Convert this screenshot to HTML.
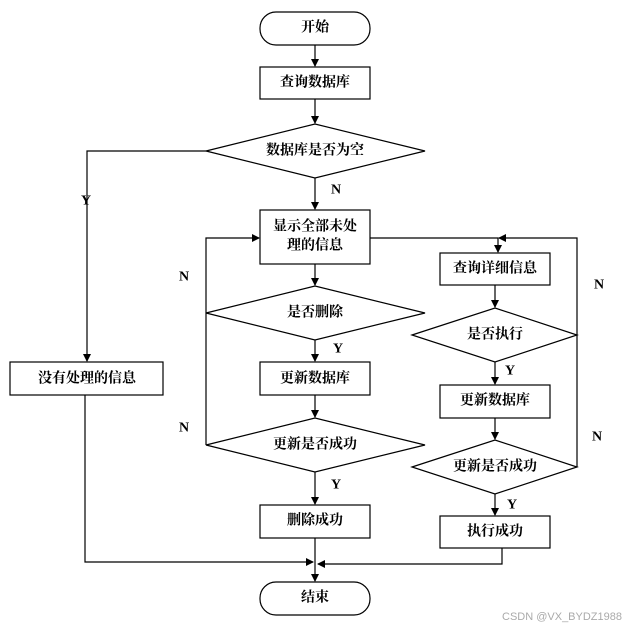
<!DOCTYPE html>
<html><head><meta charset="utf-8"><style>
html,body{margin:0;padding:0;background:#fff;}
svg text{font-family:"Liberation Serif","Noto Serif CJK SC",serif;font-weight:bold;font-size:14px;fill:#000;}
</style></head><body>
<svg width="625" height="627" viewBox="0 0 625 627" xmlns="http://www.w3.org/2000/svg">
<defs><marker id="a" markerWidth="8" markerHeight="8" refX="7" refY="4" orient="auto" markerUnits="userSpaceOnUse"><path d="M0,0 L8,4 L0,8 Z" fill="#000"/></marker></defs>
<g stroke="#000" stroke-width="1.2" fill="none">
<rect x="260" y="12" width="110" height="33" rx="16"/>
<rect x="260" y="67" width="110" height="32"/>
<polygon points="206,151 315,124 425,151 315,178"/>
<rect x="260" y="210" width="110" height="54"/>
<polygon points="206,313 315,286 425,313 315,340"/>
<rect x="260" y="362" width="110" height="33"/>
<polygon points="206,445 315,418 425,445 315,472"/>
<rect x="260" y="505" width="110" height="33"/>
<rect x="260" y="582" width="110" height="33" rx="16"/>
<rect x="10" y="362" width="153" height="33"/>
<rect x="440" y="253" width="110" height="32"/>
<polygon points="412,335 495,308 577,335 495,362"/>
<rect x="440" y="385" width="110" height="33"/>
<polygon points="412,467 495,440 577,467 495,494"/>
<rect x="440" y="516" width="110" height="32"/>
<line x1="315" y1="45" x2="315" y2="66" marker-end="url(#a)"/>
<line x1="315" y1="99" x2="315" y2="123" marker-end="url(#a)"/>
<line x1="315" y1="178" x2="315" y2="209" marker-end="url(#a)"/>
<polyline points="206,151 87,151 87,361" marker-end="url(#a)"/>
<line x1="315" y1="264" x2="315" y2="285" marker-end="url(#a)"/>
<line x1="315" y1="340" x2="315" y2="361" marker-end="url(#a)"/>
<line x1="315" y1="395" x2="315" y2="417" marker-end="url(#a)"/>
<line x1="315" y1="472" x2="315" y2="504" marker-end="url(#a)"/>
<line x1="315" y1="538" x2="315" y2="581" marker-end="url(#a)"/>
<polyline points="206,445 206,238 259,238" marker-end="url(#a)"/>
<polyline points="370,238 498,238 498,252" marker-end="url(#a)"/>
<polyline points="577,467 577,238 499,238" marker-end="url(#a)"/>
<line x1="495" y1="285" x2="495" y2="307" marker-end="url(#a)"/>
<line x1="495" y1="362" x2="495" y2="384" marker-end="url(#a)"/>
<line x1="495" y1="418" x2="495" y2="439" marker-end="url(#a)"/>
<line x1="495" y1="494" x2="495" y2="515" marker-end="url(#a)"/>
<polyline points="85,395 85,562 313,562" marker-end="url(#a)"/>
<polyline points="502,548 502,564 318,564" marker-end="url(#a)"/>
</g>
<g text-anchor="middle" dominant-baseline="central">
<text x="315" y="28">开始</text>
<text x="315" y="83">查询数据库</text>
<text x="315" y="151">数据库是否为空</text>
<text x="315" y="227">显示全部未处</text>
<text x="315" y="246">理的信息</text>
<text x="315" y="313">是否删除</text>
<text x="315" y="379">更新数据库</text>
<text x="315" y="445">更新是否成功</text>
<text x="315" y="521">删除成功</text>
<text x="315" y="598">结束</text>
<text x="87" y="379">没有处理的信息</text>
<text x="495" y="269">查询详细信息</text>
<text x="495" y="335">是否执行</text>
<text x="495" y="401">更新数据库</text>
<text x="495" y="467">更新是否成功</text>
<text x="495" y="532">执行成功</text>
<text x="86" y="201">Y</text>
<text x="336" y="190">N</text>
<text x="184" y="277">N</text>
<text x="599" y="285">N</text>
<text x="338" y="349">Y</text>
<text x="184" y="428">N</text>
<text x="597" y="437">N</text>
<text x="336" y="485">Y</text>
<text x="510" y="371">Y</text>
<text x="512" y="505">Y</text>
</g>
<text x="622" y="620" text-anchor="end" style="font-family:'Liberation Sans',sans-serif;font-weight:normal;font-size:11px;fill:#aaa">CSDN @VX_BYDZ1988</text>
</svg>
</body></html>
